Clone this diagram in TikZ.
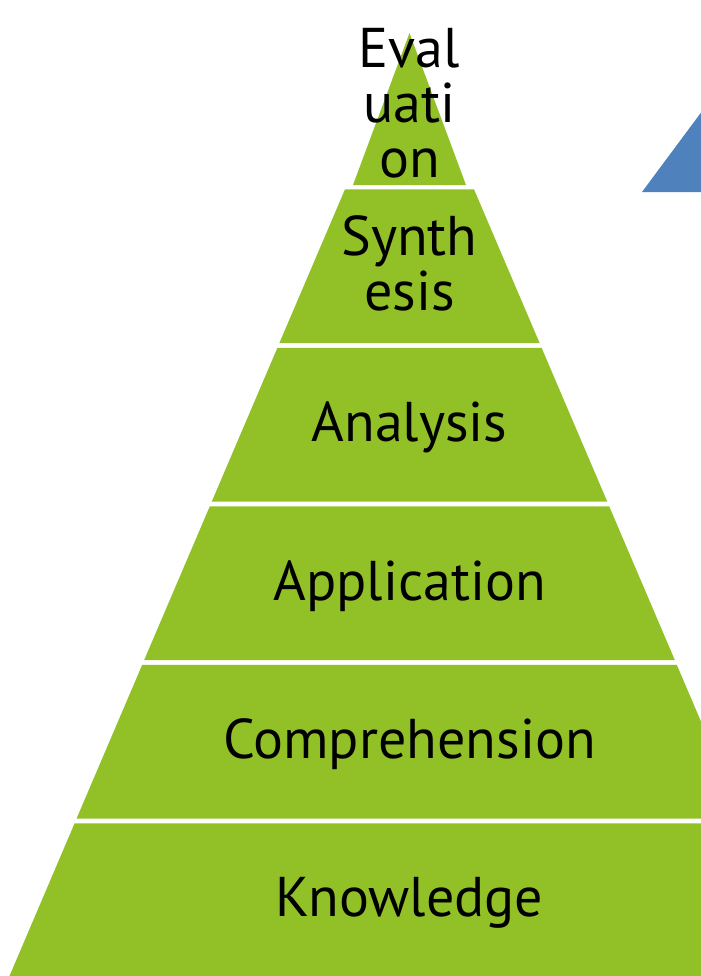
\documentclass[tikz,border=0pt]{standalone}
\usepackage{fontspec}
\setmainfont{PT Sans}
\usetikzlibrary{positioning}
\definecolor{tiergreen}{RGB}{146,193,39}
\definecolor{sideblue}{RGB}{79,129,189}
\tikzset{
  tier/.style={fill=tiergreen, draw=none},
  tiertext/.style={font=\fontsize{28}{27.5}\selectfont, align=center, inner sep=0pt, anchor=base}
}

\begin{document}
\begin{tikzpicture}[x=0.5pt,y=-0.5pt]
    \useasboundingbox (0,0) rectangle (701,976);
    \clip (0,0) rectangle (701,976);
    % blue shape at the right edge
    \fill[sideblue] (642,192) -- (720,87) -- (798,192) -- cycle;
    % pyramid tiers
    \fill[tier] (409.5,33) -- (466,185) -- (353,185) -- cycle;
    \fill[tier] (345.0,189.3) -- (474.0,189.3) -- (539.7,343.2) -- (279.3,343.2) -- cycle;
    \fill[tier] (277.4,347.8) -- (541.6,347.8) -- (607.3,501.7) -- (211.7,501.7) -- cycle;
    \fill[tier] (209.8,506.3) -- (609.2,506.3) -- (674.9,660.2) -- (144.1,660.2) -- cycle;
    \fill[tier] (142.2,664.8) -- (676.8,664.8) -- (742.5,818.7) -- (76.5,818.7) -- cycle;
    \fill[tier] (74.6,823.3) -- (744.4,823.3) -- (810.8,979) -- (8.2,979) -- cycle;
    % tier labels (base is the last line)
    \node[tiertext] (evaluation) at (409.5,177) {Eval\\uati\\on};
    \node[tiertext] (synthesis) at (409.5,310) {Synth\\esis};
    \node[tiertext] (analysis) at (409.5,441) {Analysis};
    \node[tiertext] (application) at (409.5,600) {Application};
    \node[tiertext] (comprehension) at (409.5,758) {Comprehension};
    \node[tiertext] (knowledge) at (409.5,916) {Knowledge};
\end{tikzpicture}
\end{document}
